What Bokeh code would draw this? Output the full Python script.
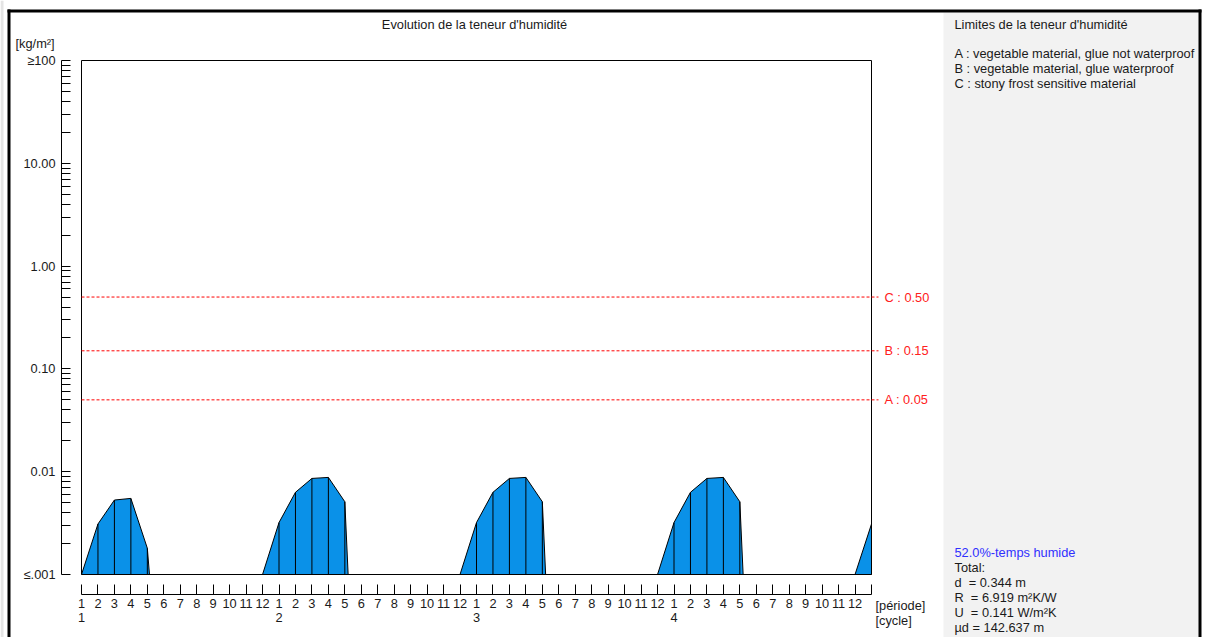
from bokeh.plotting import figure
from bokeh.models import Range1d, FixedTicker, LinearAxis, Label
from bokeh.embed import file_html
from bokeh.resources import INLINE

FONT = "Liberation Sans"
FSIZE = "12.8px"
TXT = "#1a1a1a"

# ---------------- data ----------------
cycles = ["1", "2", "3", "4"]
periods = [str(m) for m in range(1, 13)]
# moisture content at the start of each period [kg/m²] (≤.001 is clamped to 0.001)
moisture_c1 = [0.001, 0.0031, 0.0053, 0.0055, 0.0018, 0.001, 0.001, 0.001, 0.001, 0.001, 0.001, 0.001]
moisture_c2 = [0.0032, 0.0063, 0.0086, 0.0088, 0.0051, 0.001, 0.001, 0.001, 0.001, 0.001, 0.001, 0.001]
moisture_c3 = [0.0032, 0.0063, 0.0086, 0.0088, 0.0051, 0.001, 0.001, 0.001, 0.001, 0.001, 0.001, 0.001]
moisture_c4 = [0.0032, 0.0063, 0.0086, 0.0088, 0.0051, 0.001, 0.001, 0.001, 0.001, 0.001, 0.001, 0.001]
moisture_end = [0.0031]
# fraction of a period after period 5 at which the layer is dry again (≤.001)
dry_after_p5 = [0.13, 0.2, 0.2, 0.2]

limit_names = ["A", "B", "C"]
limit_values = [0.05, 0.15, 0.50]
limit_desc = ["vegetable material, glue not waterproof",
              "vegetable material, glue waterproof",
              "stony frost sensitive material"]

y_ticks = [0.001, 0.01, 0.1, 1.0, 10.0, 100.0]
y_tick_labels = ["≤.001", "0.01", "0.10", "1.00", "10.00", "≥100"]

NB = "\u00a0"
info_lines = ["Total:", f"d {NB}= 0.344 m", f"R {NB}= 6.919 m²K/W", f"U {NB}= 0.141 W/m²K", "µd = 142.637 m"]
wet_text = "52.0%-temps humide"

# ---------------- geometry helpers (page pixels -> data) ----------------
W, H = 1205, 637
N = 12 * len(cycles)
PX_PER_PERIOD = 790 / N
PX_PER_DECADE = 514 / 5


def sx_to_x(sx):
    return (sx - 81) / PX_PER_PERIOD


def sy_to_y(sy):
    return 10 ** (-3 + (574 - sy) / PX_PER_DECADE)


# ---------------- build series ----------------
all_vals = moisture_c1 + moisture_c2 + moisture_c3 + moisture_c4 + moisture_end
xs, ys = [], []
for i, v in enumerate(all_vals):
    xs.append(i)
    ys.append(v)
    if i % 12 == 4 and i // 12 < len(cycles):
        xs.append(i + dry_after_p5[i // 12])
        ys.append(y_ticks[0])

vx = [i for i, v in enumerate(all_vals) if v > y_ticks[0]]
vy = [all_vals[i] for i in vx]

p = figure(width=W, height=H,
           x_range=Range1d(sx_to_x(0), sx_to_x(W)),
           y_range=Range1d(sy_to_y(H), sy_to_y(0)),
           y_axis_type="log",
           output_backend="svg", toolbar_location=None,
           min_border_left=0, min_border_right=0,
           min_border_top=0, min_border_bottom=0)
p.grid.visible = False
p.outline_line_color = None
p.background_fill_color = "white"
p.border_fill_color = "white"

# panel background & window borders
p.quad(left=sx_to_x(0), right=sx_to_x(3), top=sy_to_y(0), bottom=sy_to_y(H),
       fill_color="#e4e4e4", line_color=None)
p.quad(left=sx_to_x(943), right=sx_to_x(1199), top=sy_to_y(12), bottom=sy_to_y(H + 5),
       fill_color="#f2f2f2", line_color=None)
p.quad(left=[sx_to_x(7), sx_to_x(7), sx_to_x(1198)],
       right=[sx_to_x(10), sx_to_x(1201), sx_to_x(1201)],
       top=[sy_to_y(9)] * 3,
       bottom=[sy_to_y(H + 5), sy_to_y(12), sy_to_y(H + 5)],
       fill_color="black", line_color=None)

# y axis
yax = p.yaxis[0]
minor = [k * 10.0 ** e for e in range(-3, 2) for k in range(2, 10)]
yax.ticker = FixedTicker(ticks=y_ticks, minor_ticks=minor)
yax.major_label_overrides = {t: l for t, l in zip(y_ticks, y_tick_labels)}
yax.bounds = (y_ticks[0], y_ticks[-1])
yax.fixed_location = sx_to_x(61)
yax.major_tick_in = 9
yax.major_tick_out = 0
yax.minor_tick_in = 9
yax.minor_tick_out = 0
yax.major_label_standoff = 6
yax.axis_line_color = "black"
yax.major_tick_line_color = "black"
yax.minor_tick_line_color = "black"
yax.major_label_text_font = FONT
yax.major_label_text_font_size = FSIZE
yax.major_label_text_color = TXT

# x axis (periods)
xax = p.xaxis[0]
xax.ticker = FixedTicker(ticks=list(range(N + 1)), minor_ticks=[])
ov = {i: periods[i % 12] for i in range(N)}
ov[N] = ""
xax.major_label_overrides = ov
xax.bounds = (0, N)
xax.fixed_location = sy_to_y(594)
xax.major_tick_in = 10
xax.major_tick_out = 0
xax.major_label_standoff = 4
xax.axis_line_color = "black"
xax.major_tick_line_color = "black"
xax.major_label_text_font = FONT
xax.major_label_text_font_size = FSIZE
xax.major_label_text_color = TXT

# second x axis (cycles)
cax = LinearAxis(ticker=FixedTicker(ticks=[12 * k for k in range(len(cycles))], minor_ticks=[]),
                 major_label_overrides={12 * k: c for k, c in enumerate(cycles)},
                 axis_line_color=None, major_tick_line_color=None, minor_tick_line_color=None,
                 major_tick_in=0, major_tick_out=0,
                 major_label_standoff=0, major_label_text_font=FONT,
                 major_label_text_font_size=FSIZE, major_label_text_color=TXT,
                 fixed_location=sy_to_y(612))
p.add_layout(cax, "below")

# moisture area
p.varea(x=xs, y1=y_ticks[0], y2=ys, fill_color="#0a91e8")
p.segment(x0=vx, x1=vx, y0=y_ticks[0], y1=vy, line_color="black", line_width=1)
p.line(xs, ys, line_color="black", line_width=1)

# plot box
p.quad(left=0, right=N, bottom=y_ticks[0], top=y_ticks[-1], fill_color=None, line_color="black", line_width=1)

# limit lines
p.segment(x0=0, x1=sx_to_x(878), y0=limit_values, y1=limit_values,
          line_color="#ff0000", line_width=1, line_dash="3 2")
for n, v in zip(limit_names, limit_values):
    p.add_layout(Label(x=sx_to_x(884), y=v, text=f"{n} : {v:.2f}", text_color="#ff2020",
                       text_font=FONT, text_font_size=FSIZE, text_baseline="middle", text_align="left"))


def lab(sx, sy, text, color=TXT, align="left"):
    p.add_layout(Label(x=sx_to_x(sx), y=sy_to_y(sy), text=text, text_color=color, text_font=FONT,
                       text_font_size=FSIZE, text_baseline="middle", text_align=align))


lab(474, 24, "Evolution de la teneur d'humidité", align="center")
lab(15, 43, "[kg/m²]")
lab(875, 605, "[période]")
lab(875, 620, "[cycle]")
lab(954, 24, "Limites de la teneur d'humidité")
for k, (n, d) in enumerate(zip(limit_names, limit_desc)):
    lab(954, 53 + 15 * k, f"{n} : {d}")
lab(954, 552, wet_text, color="#3030ff")
for k, t in enumerate(info_lines):
    lab(954, 567 + 15 * k, t)

open("out.html", "w").write(file_html(p, INLINE))
